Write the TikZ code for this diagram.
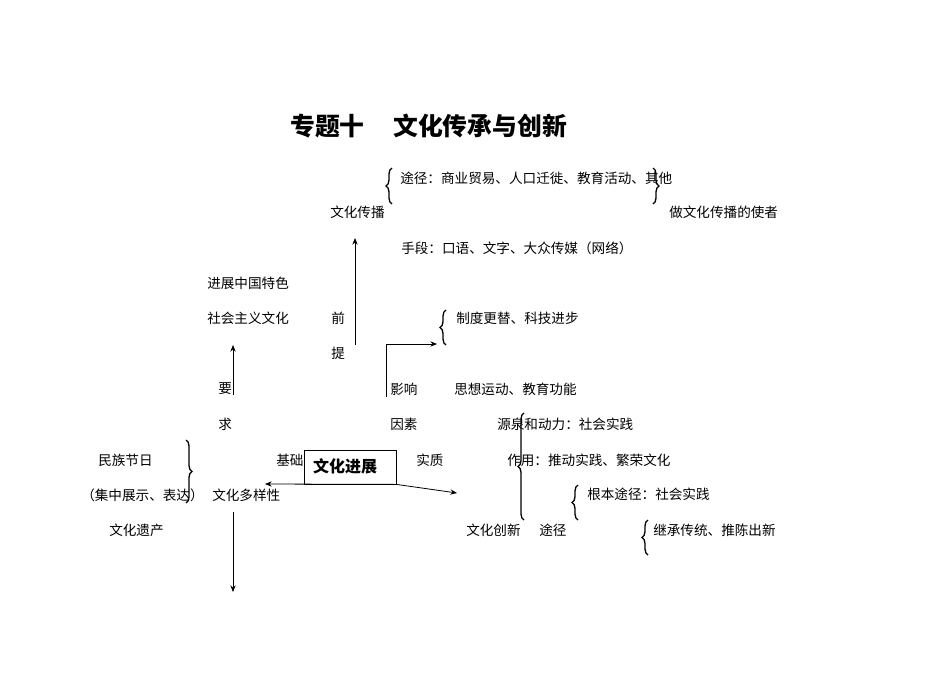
\documentclass[tikz,border=0pt]{standalone}
\usepackage{fontspec}
\setmainfont{Noto Sans CJK SC}
\usetikzlibrary{arrows.meta,decorations.pathreplacing}
\begin{document}
\begin{tikzpicture}[x=0.75pt, y=-0.75pt, font=\fontsize{10.2}{12}\selectfont,
  every node/.style={inner sep=0pt, anchor=west},
  brc/.style={decorate, decoration={brace, amplitude=4.5pt}, line width=1pt},
  arr/.style={-{Stealth[length=5pt,width=4pt]}, line width=0.6pt}]
\useasboundingbox (0,0) rectangle (950,672);
% title
\node[font=\fontsize{18.6}{20}\selectfont\bfseries] (t1) at (290,126) {专题十};
\node[font=\fontsize{18.6}{20}\selectfont\bfseries] (t2) at (393,126) {文化传承与创新};
% culture spread
\node (cb) at (330,212) {文化传播};
\node (tj) at (400,178) {途径：商业贸易、人口迁徙、教育活动、其他};
\node (sd) at (401,248) {手段：口语、文字、大众传媒（网络）};
\node (sz) at (669,212) {做文化传播的使者};
\draw[brc] (392,204) -- (392,168);
\draw[brc] (653,168) -- (653,204);
% requirement
\node (zg1) at (207,283) {进展中国特色};
\node (zg2) at (207,318) {社会主义文化};
\node (q) at (331,318) {前};
\node (t) at (331,353) {提};
\node (y1) at (218,389) {要};
\node (y2) at (218,424) {求};
% factors
\node (yx1) at (390,389) {影响};
\node (yx2) at (390,424) {因素};
\node (zd) at (456,318) {制度更替、科技进步};
\node (sx) at (454,389) {思想运动、教育功能};
\draw[brc] (446,345) -- (446,310);
% innovation
\node (yq) at (497,424) {源泉和动力：社会实践};
\node (zy) at (507,460) {作用：推动实践、繁荣文化};
\node (gb) at (587,494) {根本途径：社会实践};
\node (cx) at (466,530) {文化创新};
\node (tj2) at (539,530) {途径};
\node (jc) at (653,530) {继承传统、推陈出新};
\draw[brc] (524,520) -- (524,413);
\draw[brc] (578,520) -- (578,485);
\draw[brc] (648,555) -- (648,520);
% centre box
\node[draw, line width=0.6pt, minimum width=69pt, minimum height=25.5pt, anchor=center] (jz) at (350,467) {};
\node[font=\fontsize{12}{14}\selectfont\bfseries, anchor=center] (jzt) at (345,466) {文化进展};
\node (jch) at (276,460) {基础};
\node (sz2) at (416,460) {实质};
% diversity
\node (jr) at (98,460) {民族节日};
\node (zs) at (81,495) {（集中展示、表达）};
\node (yc) at (109,530) {文化遗产};
\node (dy) at (212,495) {文化多样性};
\draw[brc] (186,440) -- (186,503);
% connectors
\coordinate (a1) at (355,345);
\coordinate (a2) at (355,238);
\coordinate (b1) at (233,395);
\coordinate (b2) at (233,345);
\coordinate (c1) at (386,397);
\coordinate (c2) at (386,344);
\coordinate (c3) at (437,344);
\coordinate (d1) at (233,512);
\coordinate (d2) at (233,592);
\coordinate (e1) at (265,484);
\coordinate (e2) at (457,493);
\draw[arr] (a1) -- (a2);
\draw[arr] (b1) -- (b2);
\draw[arr] (c1) -- (c2) -- (c3);
\draw[arr] (d1) -- (d2);
\draw[arr] (jz.south east) -- (e1);
\draw[arr] (jz.south east) -- (e2);
\end{tikzpicture}
\end{document}
